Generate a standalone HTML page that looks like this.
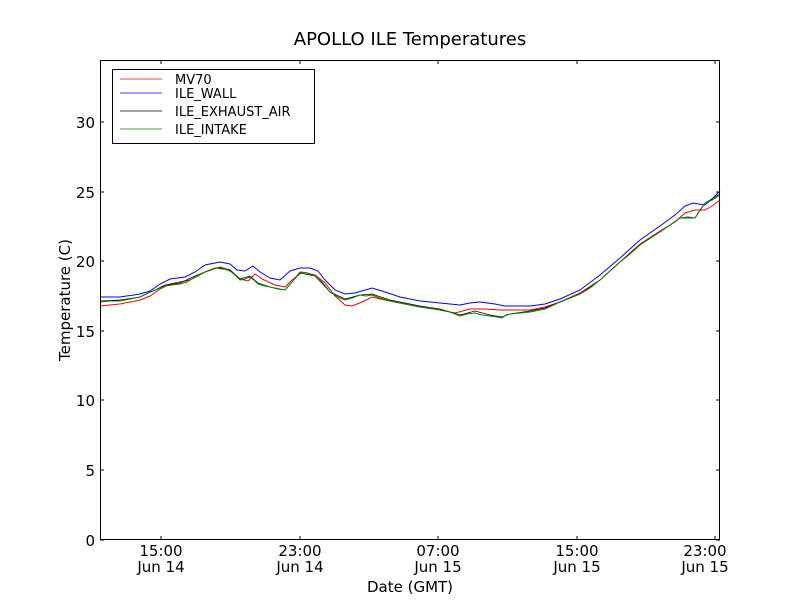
<!DOCTYPE html>
<html><head><style>body{margin:0;background:#fff}svg text{font-family:"DejaVu Sans","Liberation Sans",sans-serif}</style></head><body>
<svg width="800" height="600" xmlns="http://www.w3.org/2000/svg">
<rect width="800" height="600" fill="#fff"/>
<text x="410" y="45" font-size="18" text-anchor="middle">APOLLO ILE Temperatures</text>
<g fill="none" stroke-width="1">
<polyline stroke="#0000ff" points="100,297 120,297 140,294 150,291 160,284 170,279 185,277 195,272 205,265 220,262 230,264 237,270 245,271 253,266 260,272 270,278 280,280 290,271 300,268 310,268 318,271 325,280 335,290 345,294 355,293 372,288 385,292 400,297 420,301 440,303 460,305 470,303 480,302 495,304 505,306 530,306 545,304 560,299 580,290 600,275 620,258 640,240 660,226 675,215 685,206 693,203 705,205 712,199 720,191"/>
<polyline stroke="#ff0000" points="100,306 120,304 140,300 150,296 160,289 170,284 190,280 205,272 220,267 230,270 240,279 248,281 255,274 262,279 275,285 285,287 292,280 302,272 315,275 325,283 335,296 345,305 352,306 362,302 372,297 385,300 400,303 420,307 440,310 455,313 470,309 485,309 500,310 530,310 545,307 560,302 580,293 600,280 620,262 640,244 660,231 675,222 685,213 695,210 705,210 712,206 720,200"/>
<polyline stroke="#000000" stroke-width="0.7" points="100,301 120,300 140,297 155,290 165,285 180,283 195,276 215,268 230,270 240,279 250,276 258,283 270,287 285,290 300,273 315,276 330,292 345,299 360,295 372,294 390,300 420,306 440,309 460,315 475,311 490,315 502,317 510,314 530,311 545,308 560,302 580,294 600,280 620,262 640,245 660,232 680,218 695,218 705,203 720,194"/>
<polyline stroke="#008000" points="100,302 110,301 120,301 130,299 140,297 148,293 155,290 160,288 165,286 172,285 180,284 187,282 195,277 205,272 215,268 222,268 230,271 235,275 240,280 245,279 250,277 255,281 258,284 265,286 270,287 278,289 285,290 292,282 300,272 308,273 315,276 322,282 330,292 338,297 345,300 352,298 360,295 366,296 372,295 380,298 390,301 405,304 420,307 430,308 440,310 450,312 460,316 467,314 475,313 482,315 490,316 497,317 502,318 506,315 510,314 520,313 530,312 545,309 560,302 570,298 580,294 590,288 600,280 610,271 620,262 630,254 640,245 650,238 660,232 670,225 680,218 688,217 695,218 700,210 705,203 712,200 720,195"/>
</g>
<rect x="100.5" y="60.5" width="619" height="479" fill="none" stroke="#000"/>
<g stroke="#000">
<line x1="100" y1="540" x2="104" y2="540"/><line x1="100" y1="470" x2="104" y2="470"/><line x1="100" y1="400" x2="104" y2="400"/><line x1="100" y1="331" x2="104" y2="331"/><line x1="100" y1="261" x2="104" y2="261"/><line x1="100" y1="192" x2="104" y2="192"/><line x1="100" y1="122" x2="104" y2="122"/>
<line x1="716" y1="540" x2="720" y2="540"/><line x1="716" y1="470" x2="720" y2="470"/><line x1="716" y1="400" x2="720" y2="400"/><line x1="716" y1="331" x2="720" y2="331"/><line x1="716" y1="261" x2="720" y2="261"/><line x1="716" y1="192" x2="720" y2="192"/><line x1="716" y1="122" x2="720" y2="122"/>
<line x1="161" y1="540" x2="161" y2="536"/><line x1="300" y1="540" x2="300" y2="536"/><line x1="438" y1="540" x2="438" y2="536"/><line x1="577" y1="540" x2="577" y2="536"/><line x1="715" y1="540" x2="715" y2="536"/>
<line x1="161" y1="60" x2="161" y2="64"/><line x1="300" y1="60" x2="300" y2="64"/><line x1="438" y1="60" x2="438" y2="64"/><line x1="577" y1="60" x2="577" y2="64"/><line x1="715" y1="60" x2="715" y2="64"/>
</g>
<g font-size="15" text-anchor="end">
<text x="95" y="546">0</text><text x="95" y="476">5</text><text x="95" y="406">10</text><text x="95" y="337">15</text><text x="95" y="267">20</text><text x="95" y="198">25</text><text x="95" y="128">30</text>
</g>
<g font-size="15" text-anchor="middle">
<text x="161" y="556">15:00</text><text x="161" y="572">Jun 14</text>
<text x="300" y="556">23:00</text><text x="300" y="572">Jun 14</text>
<text x="438" y="556">07:00</text><text x="438" y="572">Jun 15</text>
<text x="577" y="556">15:00</text><text x="577" y="572">Jun 15</text>
<text x="705" y="556">23:00</text><text x="705" y="572">Jun 15</text>
<text x="410" y="592">Date (GMT)</text>
<text transform="translate(70,300) rotate(-90)">Temperature (C)</text>
</g>
<rect x="112.5" y="69.5" width="202" height="74" fill="#fff" stroke="#000"/>
<g stroke-width="0.8">
<line x1="120" y1="79" x2="162" y2="79" stroke="#ff0000"/>
<line x1="120" y1="93" x2="162" y2="93" stroke="#0000ff"/>
<line x1="120" y1="111" x2="162" y2="111" stroke="#000"/>
<line x1="120" y1="129" x2="162" y2="129" stroke="#008000"/>
</g>
<g font-size="13">
<text x="175" y="84">MV70</text><text x="175" y="98">ILE_WALL</text><text x="175" y="116">ILE_EXHAUST_AIR</text><text x="175" y="134">ILE_INTAKE</text>
</g>
</svg>
</body></html>
